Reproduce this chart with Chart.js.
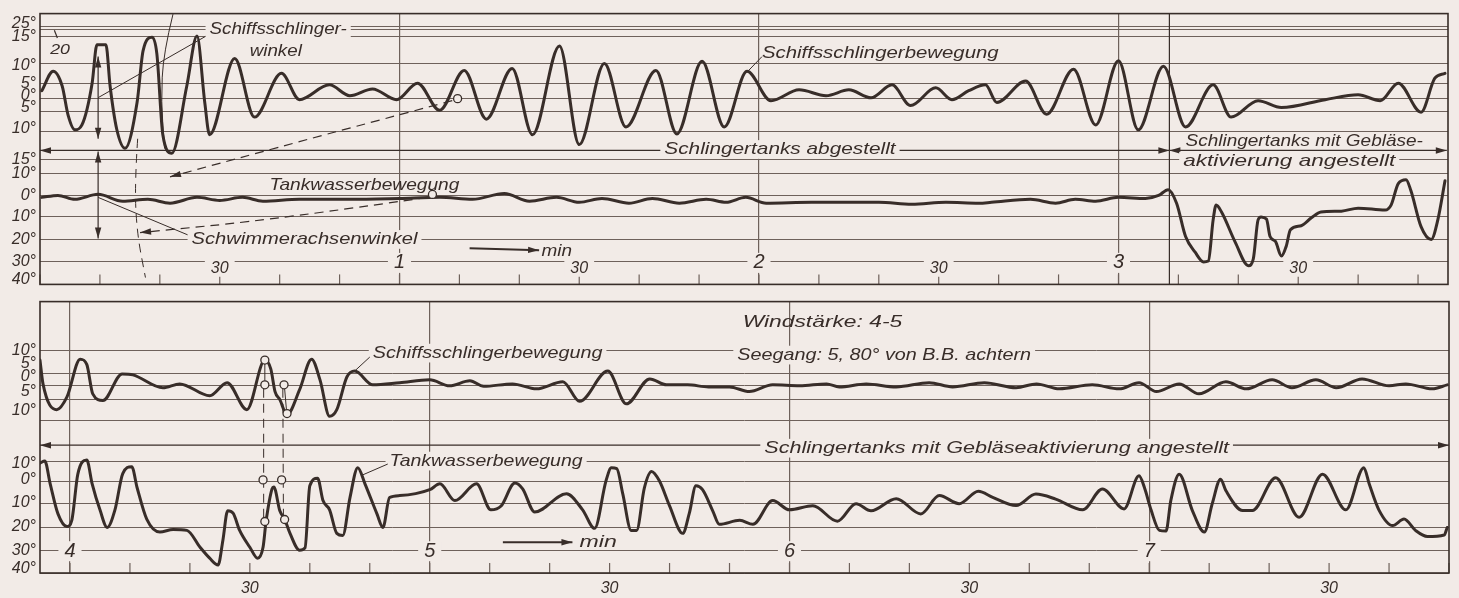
<!DOCTYPE html>
<html>
<head>
<meta charset="utf-8">
<script src="https://cdn.jsdelivr.net/npm/chart.js@4.4.1/dist/chart.umd.min.js"></script>
<style>
  html, body { margin: 0; padding: 0; background: #f2ebe7; }
  body { width: 1459px; height: 598px; position: relative; overflow: hidden; }
  canvas { position: absolute; left: 0; }
  #oben { top: 0; }
  #unten { top: 288px; }
</style>
</head>
<body>
<canvas id="oben" width="1459" height="298"></canvas>
<canvas id="unten" width="1459" height="310"></canvas>
<script>
// Zeit in s, Winkel in Grad (oberer Streifen: Schlingertanks zuerst abgestellt)
const topRollTime = [0.3,2.2,3.7,4.7,5.8,7,8.7,9.5,11,11.7,12.8,14.2,16.2,17.2,18.7,19.5,20.5,22,24.5,26.2,27.5,28.3,32.5,35.8,40.3,43.3,48.3,51.7,55.5,59.5,63,66.7,70.8,74.5,78.8,82.2,86.7,90,94.2,97.8,102.8,106.3,110.5,114.2,118,122,126.7,131.2,135,138.7,142.2,145.3,149.5,152.2,155,157.8,159.7,164.5,168,172.5,176.2,180,183.3,187.5,191.2,195.8,198.8,203.3,207.2,214.5,220,223.7,226.7,230.5,232.8,234.5];
const topRoll = [2.7,8.1,4.3,-6,-9.5,-8.3,5.2,13.4,13.4,4.3,-9.3,-14,-1.5,12.3,14.8,11.8,-10.7,-15.2,4.3,15,-1.5,-10.7,10.9,-6.4,7.6,-0.4,4.7,1,3.3,-0.4,5.2,-4.6,8.3,-6.9,8.8,-10.7,13.2,-13.1,10,-8.8,8.3,-10.5,10.4,-8.8,8.1,-0.8,3,1,3,0.3,4.7,-2.7,3.7,-0.4,2.7,4.7,-1.5,5.7,-5.7,8.6,-8.3,10.5,-9.5,9.3,-8.8,4.7,-6.4,-0.8,-3.5,-0.4,1.3,-0.8,5.2,-5.2,6.4,7.6];

const topTankTime = [0.3,3,5.8,9.7,13.8,18,21.7,26.2,30,33.8,37.2,43.3,51.7,60,66.7,72.2,77.5,81.7,86.2,90,93.8,98.3,102.2,106.7,111.2,114.5,117.8,121.2,128.8,140,145.5,151.2,156.7,158.8,165.3,169.5,172.8,176.2,180,184.5,186.7,188.3,189.7,191.2,192.8,194.2,195,195.8,196.3,197.2,199.5,201.7,202.5,203.3,203.8,204.7,205.3,206.2,207.2,208,208.7,210.5,212.2,213.8,217.2,220,224.5,225.5,226.7,228,228.8,230.5,232.2,233.3,234.5];
const topTank = [-0.9,0,-1.8,0.5,-2.7,-1.8,-3.6,-0.9,-2.3,-0.9,-2.7,-1.8,-1.8,-1.4,-0.9,-1.8,0.9,-2.7,-0.9,-3.2,-1.4,-3.6,-1.4,-3.6,-1.8,-3.2,-0.9,-3.6,-3.2,-3.2,-4.1,-3.2,-3.6,-3.2,-1.8,-3.6,-1.8,-2.7,-0.9,-1.4,0,2.7,-3.6,-18.7,-25.7,-30,-29.6,-11.3,-4.5,-7.7,-21.3,-31.7,-28.7,-11.3,-10,-10.9,-18.7,-20.9,-27.4,-23,-15.7,-13.9,-10.4,-7.7,-7.3,-5.9,-6.8,-4.5,5.5,7.3,2.3,-14.3,-20,-11.3,6.8];

// unterer Streifen: Schlingertanks mit Gebläseaktivierung
const botRollTime = [235,235.5,237.8,239.5,241.7,242.8,243.8,245.5,248.7,250.5,255.5,258.3,263.3,266.2,269.5,272.5,273.5,274.2,275,276.2,278.3,280.3,281.7,283.3,284.5,286.2,287.5,290.5,295,300,303.3,306.7,309,313.8,317.8,322.2,325,329.7,332.8,336.7,339.5,343,346.5,350,353.3,357.2,361.7,366.2,368.3,372.8,377.8,383.3,387.2,392.5,397.8,401.2,405,410.5,415,418.3,421.2,425,428.3,432.8,436.2,440.5,443.8,447.8,451.2,455.5,460,462.8,467.2,469.7];
const botRoll = [7.9,0.8,-7.4,-4,8.1,7,-2.9,-5.2,5,4.6,-0.7,0.8,-3.6,1.3,-7.4,7.9,6,-2.1,-5,-8.6,-1.4,8.1,2.5,-9,-7.4,3.8,5.6,0.4,1.3,2.5,0,2.1,-0.2,0.8,-1.1,1.7,-5.4,5.6,-6,2.9,0.4,0.4,-0.4,-0.4,-2.1,0.4,0,0.8,-0.4,0.8,-0.4,1.3,-0.4,1.3,-0.7,0.8,-1.1,0.4,-1.1,1.3,-2.1,0.8,-2.9,1.7,-1.1,2.5,-0.7,2.5,-0.7,2.9,0,0.8,-1.1,0.4];

const botTankTime = [235,235.8,236.7,238,239.5,240.3,241.3,242.8,243.7,245,246.2,247.5,248.8,250.3,251.2,252.8,255,257.2,259.5,261.7,263.3,264.7,265.5,266.3,267.2,268.3,270,271.3,272.2,272.7,273.7,274,275,275.8,276.7,278.3,279.2,280,281.3,282.2,283.3,284.5,285.5,286.7,288,289.2,291.2,292.2,293.3,295,300,301.7,304.2,307.8,310.2,311.9,314.2,315.5,317.5,322.8,325.5,327.5,329.4,330.3,331.2,332.2,333.6,334.5,335.8,337,338.3,340,342.2,343.3,344.4,345.5,347.2,348.3,351.7,353.9,357.2,360,363.9,368,371.1,373.6,377.8,381.9,385,388.3,391.5,393.9,397.8,401.1,404.4,408.9,412.2,415.8,418.3,419.2,420.3,421.7,422.8,423.6,425,427.2,429.2,430.5,431.9,432.8,435.6,437.2,441.1,445,448.9,452.8,455.8,456.7,458.3,460.6,462.5,464.4,466.4,469.2,469.7];
const botTank = [9,10,-0.9,-14.3,-19.6,-17,3.6,10.5,-0.9,-12.6,-20,-12.6,4,7.3,-2.7,-16.5,-22,-20.9,-21.3,-28.7,-33.5,-36.5,-25.7,-13,-14,-21.3,-28.7,-33.5,-28.7,-17.5,-3.2,-2.3,-13,-16.5,-22.6,-30,-29,-1.8,1.8,-8.6,-12.6,-22.6,-23.5,-7.2,6.8,-0.9,-14.3,-20,-7.2,-6.3,-3.6,-0.9,-8.6,-0.9,-12.6,-11,-0.5,-3.2,-13.5,-5.5,-12.6,-20.4,0.5,6.8,6.4,-5.5,-21.3,-21.3,-2.7,5,0.5,-10.9,-22.6,-14,-1.8,-3.6,-13,-18.7,-17,-18.7,-8.6,-12.6,-10.9,-17.4,-10,-13,-7.7,-14.3,-6.3,-10,-4.3,-7.1,-10.8,-5.6,-7.9,-12.6,-3.3,-12.2,2.9,-2.6,-12.6,-21.3,-21.6,-8.6,3.7,-12.9,-22,-10.1,1.3,-4.1,-12.9,-12.9,2,-15.7,3.7,-12.6,6.8,-1,-12.6,-19.2,-16.5,-21.3,-24,-23.3,-20];

// Eichlinien (Grad) und ihre Lage im Streifen
const rollCalTopDeg = [25, 20, 15, 10, 5, 0, -5, -10];
const rollCalTopPos = [13, 16, 23, 51, 72, 87, 100, 121];
const tankCalTopDeg = [15, 10, 0, -10, -20, -30, -40];
const tankCalTopPos = [149, 164, 186, 208, 231, 254, 277];
const rollCalBotDeg = [10, 5, 0, -5, -10];
const rollCalBotPos = [49, 73, 85, 99, 120];
const tankCalBotDeg = [10, 0, -10, -20, -30, -40];
const tankCalBotPos = [161, 182, 204, 228, 251, 274];

// Gradbeschriftung am linken Rand
const topAxisText = ['25°', '15°', '10°', '5°', '0°', '5°', '10°', '15°', '10°', '0°', '10°', '20°', '30°', '40°'];
const topAxisPos = [10, 23, 53, 72, 84, 96, 118, 149, 164, 186, 208, 231, 254, 272];
const botAxisText = ['10°', '5°', '0°', '5°', '10°', '10°', '0°', '10°', '20°', '30°', '40°'];
const botAxisPos = [49, 63, 76, 91, 110, 163, 180, 203, 227, 251, 269];

// Zeitbeschriftung
const topTickSec = [30, 60, 90, 120, 150, 180, 210];
const topTickText = ['30', '1', '30', '2', '30', '3', '30'];
const botMinuteSec = [240, 300, 360, 420];
const botMinuteText = ['4', '5', '6', '7'];
const botHalfSec = [270, 330, 390, 450];

const paper = '#f2ebe7';
const ink = '#382d29';
const gridInk = '#6e615b';
const FONT = "'Liberation Sans', 'DejaVu Sans', sans-serif";

function calibPos(deg, cd, cp) {
  for (let i = 0; i < cd.length - 1; i++) {
    if (deg <= cd[i] && deg >= cd[i + 1]) {
      const f = (deg - cd[i]) / (cd[i + 1] - cd[i]);
      return cp[i] + f * (cp[i + 1] - cp[i]);
    }
  }
  const n = cd.length;
  const a = deg > cd[0] ? 0 : n - 2, b = a + 1;
  return cp[a] + (deg - cd[a]) * (cp[b] - cp[a]) / (cd[b] - cd[a]);
}

function series(times, degs, cd, cp) {
  return times.map((t, i) => ({ x: t, y: calibPos(degs[i], cd, cp) }));
}

function arrowHead(ctx, x0, y0, x1, y1) {
  const ang = Math.atan2(y1 - y0, x1 - x0), L = 11, W = 3.2;
  const c = Math.cos(ang), s = Math.sin(ang);
  ctx.beginPath();
  ctx.moveTo(x1, y1);
  ctx.lineTo(x1 - L * c + W * s, y1 - L * s - W * c);
  ctx.lineTo(x1 - L * c - W * s, y1 - L * s + W * c);
  ctx.closePath();
  ctx.fill();
}

function drawItem(ctx, a, px, py) {
  ctx.save();
  ctx.strokeStyle = ink;
  ctx.fillStyle = ink;
  if (a.type === 'line') {
    const p = a.pts.map(q => [px(q[0]), py(q[1])]);
    ctx.lineWidth = a.w || 1;
    ctx.setLineDash(a.dash ? [9, 6] : []);
    ctx.beginPath();
    ctx.moveTo(p[0][0], p[0][1]);
    if (a.curve && p.length > 2) {
      for (let i = 1; i < p.length - 1; i++) {
        const mx = (p[i][0] + p[i + 1][0]) / 2, my = (p[i][1] + p[i + 1][1]) / 2;
        ctx.quadraticCurveTo(p[i][0], p[i][1], mx, my);
      }
      ctx.lineTo(p[p.length - 1][0], p[p.length - 1][1]);
    } else {
      for (let i = 1; i < p.length; i++) ctx.lineTo(p[i][0], p[i][1]);
    }
    ctx.stroke();
    ctx.setLineDash([]);
    const n = p.length;
    if (a.end) arrowHead(ctx, p[n - 2][0], p[n - 2][1], p[n - 1][0], p[n - 1][1]);
    if (a.start) arrowHead(ctx, p[1][0], p[1][1], p[0][0], p[0][1]);
  } else if (a.type === 'text') {
    const size = a.size || 17;
    ctx.font = `italic ${size}px ${FONT}`;
    const x1 = px(a.t1), x2 = px(a.t2), y = py(a.u);
    const w = ctx.measureText(a.text).width;
    if (a.bg) {
      ctx.fillStyle = paper;
      ctx.fillRect(x1 - 4, y - size * 0.55, x2 - x1 + 8, size * 1.1);
      ctx.fillStyle = ink;
    }
    ctx.translate(x1, y);
    ctx.scale((x2 - x1) / w, 1);
    ctx.textBaseline = 'middle';
    ctx.fillText(a.text, 0, 0);
  } else if (a.type === 'label') {
    const size = a.size || 15;
    ctx.font = `italic ${size}px ${FONT}`;
    const x = px(a.t), y = py(a.u);
    const w = ctx.measureText(a.text).width;
    if (a.bg) {
      ctx.fillStyle = paper;
      ctx.fillRect(x - w / 2 - 6, y - size * 0.5, w + 12, size);
      ctx.fillStyle = ink;
    }
    ctx.textAlign = 'center';
    ctx.textBaseline = 'middle';
    ctx.fillText(a.text, x, y);
  }
  ctx.restore();
}

function notesPlugin(items, rings) {
  return {
    id: 'paperNotes',
    beforeDatasetsDraw(chart) {
      const ctx = chart.ctx, xs = chart.scales.x, ys = chart.scales.y, area = chart.chartArea;
      const px = t => xs.getPixelForValue(t), py = u => ys.getPixelForValue(u);
      ctx.save();
      ctx.strokeStyle = gridInk;
      ctx.lineWidth = 1.2;
      for (const tk of xs.ticks) {
        if (tk.value % 10 !== 0) continue;
        const x = px(tk.value);
        ctx.beginPath();
        ctx.moveTo(x, area.bottom);
        ctx.lineTo(x, area.bottom - 10);
        ctx.stroke();
      }
      ctx.restore();
      items.forEach(a => drawItem(ctx, a, px, py));
    },
    afterDatasetsDraw(chart) {
      const ctx = chart.ctx, xs = chart.scales.x, ys = chart.scales.y;
      ctx.save();
      ctx.lineWidth = 1.3;
      ctx.strokeStyle = ink;
      ctx.fillStyle = paper;
      rings.forEach(r => {
        ctx.beginPath();
        ctx.arc(xs.getPixelForValue(r[0]), ys.getPixelForValue(r[1]), 4, 0, Math.PI * 2);
        ctx.fill();
        ctx.stroke();
      });
      ctx.restore();
    },
    afterDraw(chart) {
      const a = chart.chartArea, ctx = chart.ctx;
      ctx.save();
      ctx.strokeStyle = ink;
      ctx.lineWidth = 1.6;
      ctx.strokeRect(a.left, a.top, a.right - a.left, a.bottom - a.top);
      ctx.restore();
    }
  };
}

function trace(label, data) {
  return {
    label, data,
    borderColor: ink,
    backgroundColor: ink,
    borderWidth: 3,
    pointRadius: 0,
    fill: false,
    cubicInterpolationMode: 'monotone',
    borderJoinStyle: 'round',
    borderCapStyle: 'round'
  };
}

function makePanel(id, cfg) {
  // erst die Eichlinien (ohne Text), dann die Beschriftungen (ohne Linie)
  const gridVals = cfg.rollPos.concat(cfg.tankPos);
  const nGrid = gridVals.length;
  const yVals = gridVals.concat(cfg.axisPos);
  return new Chart(document.getElementById(id), {
    type: 'line',
    data: {
      datasets: [
        trace('Schiffsschlingerbewegung', series(cfg.rollT, cfg.roll, cfg.rollDeg, cfg.rollPos)),
        trace('Tankwasserbewegung', series(cfg.tankT, cfg.tank, cfg.tankDeg, cfg.tankPos))
      ]
    },
    options: {
      responsive: false,
      animation: false,
      devicePixelRatio: 1,
      layout: { padding: cfg.padding },
      plugins: { legend: { display: false }, tooltip: { enabled: false } },
      scales: {
        x: {
          type: 'linear',
          min: cfg.tMin,
          max: cfg.tMax,
          afterBuildTicks: s => {
            const t = [];
            for (let v = Math.ceil(cfg.tMin / 10) * 10; v <= cfg.tMax; v += 10) t.push({ value: v });
            s.ticks = t;
          },
          afterFit: s => { s.height = cfg.xHeight; },
          border: { display: false },
          grid: {
            drawTicks: false,
            lineWidth: 1.2,
            color: c => (c.tick && c.tick.value % 60 === 0 && c.tick.value > cfg.tMin) ? gridInk : 'rgba(0,0,0,0)'
          },
          ticks: {
            display: cfg.xLabels,
            autoSkip: false,
            maxRotation: 0,
            padding: 6,
            color: ink,
            font: { family: FONT, size: 16, style: 'italic' },
            callback: v => botHalfSec.includes(v) ? '30' : ''
          }
        },
        y: {
          type: 'linear',
          reverse: true,
          min: 0,
          max: cfg.uMax,
          afterBuildTicks: s => { s.ticks = yVals.map(v => ({ value: v })); },
          afterFit: s => { s.width = 40; },
          border: { display: false },
          grid: {
            drawTicks: false,
            lineWidth: 1,
            color: c => c.index < nGrid ? gridInk : 'rgba(0,0,0,0)'
          },
          ticks: {
            autoSkip: false,
            padding: 4,
            color: ink,
            font: { family: FONT, size: 16, style: 'italic' },
            callback: (v, i) => i < nGrid ? '' : cfg.axisText[i - nGrid]
          }
        }
      }
    },
    plugins: [notesPlugin(cfg.items, cfg.rings)]
  });
}

// Beschriftungen oben (Zeit s, Lage im Streifen)
const topItems = [
  { type: 'line', pts: [[22.2, 0.5], [20.6, 40], [20.2, 90], [20.8, 138]], curve: true, w: 1 },
  { type: 'line', pts: [[16.3, 128], [15.8, 175], [16.2, 225], [17.6, 270]], curve: true, dash: true, w: 1 },
  { type: 'line', pts: [[2.4, 17], [2.9, 25]], w: 1.2 },
  { type: 'text', text: '20', t1: 1.7, t2: 5, u: 37, size: 15 },
  { type: 'line', pts: [[28, 22], [9.7, 86]], w: 1 },
  { type: 'line', pts: [[9.7, 86], [9.7, 44]], end: true, w: 1.2 },
  { type: 'line', pts: [[9.7, 86], [9.7, 128]], end: true, w: 1.2 },
  { type: 'line', pts: [[9.7, 186], [9.7, 141]], end: true, w: 1.2 },
  { type: 'line', pts: [[9.7, 186], [9.7, 230]], end: true, w: 1.2 },
  { type: 'line', pts: [[25.3, 228], [9.7, 188]], w: 1 },
  { type: 'text', text: 'Schiffsschlinger-', t1: 28.3, t2: 51.2, u: 16, bg: true },
  { type: 'text', text: 'winkel', t1: 35, t2: 43.7, u: 39 },
  { type: 'text', text: 'Schwimmerachsenwinkel', t1: 25.3, t2: 63, u: 231, bg: true },
  { type: 'text', text: 'Tankwasserbewegung', t1: 38.3, t2: 70, u: 176 },
  { type: 'line', pts: [[68.8, 89], [45, 128], [21.7, 167]], curve: true, dash: true, end: true, w: 1.2 },
  { type: 'line', pts: [[64.7, 188], [40, 210], [16.7, 224]], curve: true, dash: true, end: true, w: 1.2 },
  { type: 'line', pts: [[71.7, 240], [83.3, 242]], end: true, w: 2 },
  { type: 'text', text: 'min', t1: 83.7, t2: 88.8, u: 243 },
  { type: 'line', pts: [[0, 140], [94, 140], [188.5, 140]], start: true, end: true, w: 1.2 },
  { type: 'text', text: 'Schlingertanks abgestellt', t1: 104.2, t2: 142.8, u: 139, bg: true },
  { type: 'line', pts: [[188.5, 0], [188.5, 277]], w: 1.2 },
  { type: 'line', pts: [[188.5, 140], [212, 140], [234.8, 140]], start: true, end: true, w: 1.2 },
  { type: 'text', text: 'Schlingertanks mit Gebläse-', t1: 191.2, t2: 230.8, u: 131 },
  { type: 'text', text: 'aktivierung angestellt', t1: 190.8, t2: 226.2, u: 151, bg: true },
  { type: 'text', text: 'Schiffsschlingerbewegung', t1: 120.5, t2: 160, u: 41 },
  { type: 'line', pts: [[120.5, 44], [118.3, 58]], w: 1 }
].concat(topTickSec.map((t, i) => ({
  type: 'label', text: topTickText[i], t: t, u: topTickText[i] === '30' ? 261 : 255,
  size: topTickText[i] === '30' ? 16 : 20, bg: true
})));
const topRings = [[69.7, 87], [65.5, 185]];

// Beschriftungen unten
const botItems = [
  { type: 'text', text: 'Windstärke: 4-5', t1: 352.2, t2: 378.8, u: 21 },
  { type: 'text', text: 'Seegang: 5, 80° von B.B. achtern', t1: 351.3, t2: 400.3, u: 54, bg: true },
  { type: 'text', text: 'Schiffsschlingerbewegung', t1: 290.5, t2: 328.8, u: 52, bg: true },
  { type: 'line', pts: [[290, 56], [287.5, 70]], w: 1 },
  { type: 'line', pts: [[272.5, 63], [272.5, 81]], w: 1 },
  { type: 'line', pts: [[275.8, 88], [276.1, 109]], w: 1 },
  { type: 'line', pts: [[272.3, 88], [272.3, 218]], dash: true, w: 1 },
  { type: 'line', pts: [[275.5, 88], [275.6, 216]], dash: true, w: 1 },
  { type: 'line', pts: [[235, 145], [350, 145], [470, 145]], start: true, end: true, w: 1.2 },
  { type: 'text', text: 'Schlingertanks mit Gebläseaktivierung angestellt', t1: 355.8, t2: 433.3, u: 148, bg: true },
  { type: 'text', text: 'Tankwasserbewegung', t1: 293.3, t2: 325.5, u: 161, bg: true },
  { type: 'line', pts: [[293, 164], [288.8, 175]], w: 1 },
  { type: 'line', pts: [[312.2, 243], [323.8, 243]], end: true, w: 2 },
  { type: 'text', text: 'min', t1: 325, t2: 331.2, u: 243 }
].concat(botMinuteSec.map((t, i) => ({ type: 'label', text: botMinuteText[i], t: t, u: 252, size: 20, bg: true })));
const botRings = [[272.5, 59], [272.5, 84], [275.7, 84], [276.2, 113], [272.2, 180], [275.3, 180], [272.5, 222], [275.8, 220]];

makePanel('oben', {
  rollT: topRollTime, roll: topRoll, tankT: topTankTime, tank: topTank,
  rollDeg: rollCalTopDeg, rollPos: rollCalTopPos,
  tankDeg: tankCalTopDeg, tankPos: tankCalTopPos,
  axisText: topAxisText, axisPos: topAxisPos,
  tMin: 0, tMax: 235, uMax: 277, xHeight: 0, xLabels: false,
  padding: { top: 9, bottom: 12, left: 0, right: 11 },
  items: topItems, rings: topRings
});

makePanel('unten', {
  rollT: botRollTime, roll: botRoll, tankT: botTankTime, tank: botTank,
  rollDeg: rollCalBotDeg, rollPos: rollCalBotPos,
  tankDeg: tankCalBotDeg, tankPos: tankCalBotPos,
  axisText: botAxisText, axisPos: botAxisPos,
  tMin: 235, tMax: 470, uMax: 274, xHeight: 25, xLabels: true,
  padding: { top: 11, bottom: 0, left: 0, right: 10 },
  items: botItems, rings: botRings
});
</script>
</body>
</html>
